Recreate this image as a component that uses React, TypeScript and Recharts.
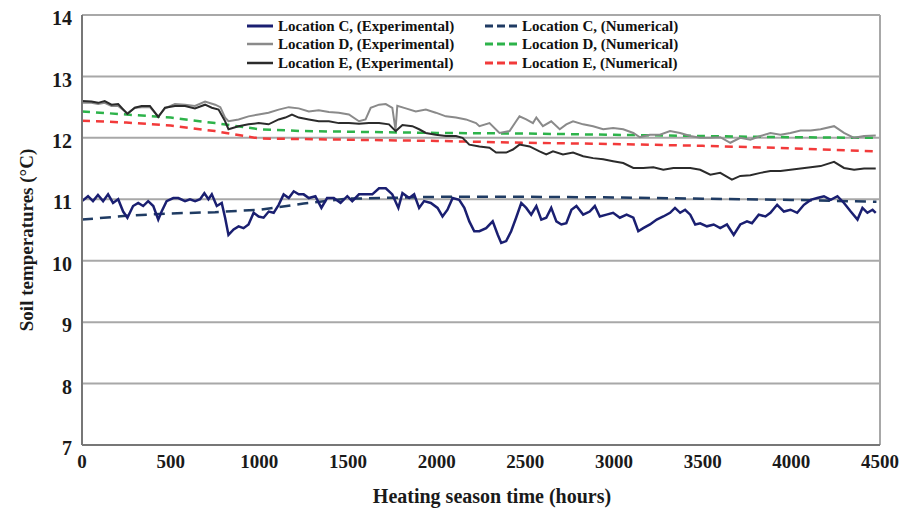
import {
  CartesianGrid,
  Label,
  Line,
  LineChart,
  ReferenceLine,
  XAxis,
  YAxis,
} from "recharts";

const xTicks = [0, 500, 1000, 1500, 2000, 2500, 3000, 3500, 4000, 4500];
const yTicks = [7, 8, 9, 10, 11, 12, 13, 14];

// experimental, location C (hours / °C)
const cHours = [
  0, 34, 62, 90, 119, 147, 175, 204, 232, 256, 288, 317, 345, 373, 402, 430, 449, 477, 515, 543,
  581, 609, 638, 666, 690, 713, 732, 760, 788, 807, 826, 855, 883, 911, 939, 968, 996, 1024, 1053, 1081,
  1109, 1137, 1166, 1194, 1222, 1250, 1279, 1316, 1350, 1382, 1420, 1458, 1496, 1524, 1562, 1599, 1637, 1675, 1713, 1750,
  1784, 1807, 1845, 1873, 1901, 1929, 1967, 2005, 2033, 2061, 2090, 2127, 2156, 2184, 2212, 2241,
  2279, 2316, 2345, 2364, 2392, 2420, 2448, 2477, 2505, 2533, 2562, 2590, 2618, 2646, 2675, 2703, 2731, 2760, 2788, 2826,
  2863, 2892, 2920, 2958, 2995, 3033, 3071, 3109, 3137, 3165, 3203, 3241, 3278, 3316, 3344, 3373,
  3401, 3430, 3458, 3486, 3524, 3562, 3599, 3637, 3675, 3712, 3750, 3778, 3816, 3854, 3882, 3920, 3958, 3995, 4033, 4071,
  4109, 4146, 4184, 4222, 4260, 4297, 4335, 4373, 4401, 4429, 4458, 4476,
];
const cExp = [
  10.97, 11.05, 10.97, 11.07, 10.97, 11.08, 10.94, 11.0, 10.8, 10.7, 10.89, 10.94, 10.89, 10.97, 10.89, 10.67, 10.8, 10.97, 11.02, 11.02,
  10.97, 11.0, 10.97, 11.0, 11.1, 11.0, 11.08, 10.89, 10.94, 10.7, 10.42, 10.51, 10.56, 10.53, 10.59, 10.78, 10.72, 10.7, 10.8, 10.78,
  10.91, 11.08, 11.02, 11.13, 11.08, 11.08, 11.02, 11.05, 10.86, 11.02, 11.02, 10.94, 11.05, 10.97, 11.08, 11.08, 11.08, 11.18, 11.18, 11.08,
  10.86, 11.1, 11.02, 11.08, 10.86, 10.97, 10.94, 10.86, 10.72, 10.83, 11.02, 10.99, 10.86, 10.64, 10.48, 10.48,
  10.53, 10.64, 10.42, 10.29, 10.32, 10.48, 10.7, 10.94, 10.86, 10.75, 10.89, 10.67, 10.7, 10.86, 10.64, 10.59, 10.61, 10.83, 10.89, 10.75,
  10.8, 10.89, 10.72, 10.75, 10.78, 10.7, 10.75, 10.7, 10.48, 10.53, 10.59, 10.67, 10.72, 10.78, 10.86, 10.78,
  10.83, 10.75, 10.59, 10.61, 10.56, 10.59, 10.53, 10.59, 10.42, 10.59, 10.64, 10.61, 10.75, 10.72, 10.78, 10.91, 10.8, 10.83, 10.78, 10.91,
  10.99, 11.02, 11.05, 10.99, 11.05, 10.94, 10.8, 10.67, 10.86, 10.78, 10.83, 10.78,
];

// experimental, location D
const dHours = [
  0, 53, 91, 128, 166, 204, 256, 298, 336, 383, 430, 468, 524, 581, 637, 694, 751, 780, 807, 826,
  883, 939, 996, 1052, 1109, 1166, 1222, 1279, 1335, 1392, 1448, 1505, 1562, 1599, 1628, 1675, 1713, 1750, 1768, 1778,
  1826, 1882, 1939, 1995, 2052, 2109, 2165, 2222, 2241, 2298, 2354, 2411, 2448, 2467, 2505, 2543, 2562, 2599, 2646, 2694,
  2731, 2769, 2826, 2882, 2939, 2995, 3052, 3109, 3146, 3203, 3259, 3316, 3373, 3430, 3486, 3543, 3599, 3656, 3712, 3769,
  3826, 3882, 3939, 3995, 4052, 4109, 4165, 4241, 4297, 4354, 4410, 4476,
];
const dExp = [
  12.57, 12.57, 12.55, 12.57, 12.52, 12.52, 12.4, 12.49, 12.5, 12.5, 12.35, 12.48, 12.55, 12.54, 12.52, 12.59, 12.54, 12.5, 12.33, 12.27,
  12.3, 12.35, 12.38, 12.41, 12.46, 12.5, 12.48, 12.43, 12.45, 12.42, 12.41, 12.38, 12.27, 12.3, 12.49, 12.54, 12.55, 12.49, 12.13, 12.52,
  12.48, 12.43, 12.46, 12.41, 12.35, 12.33, 12.3, 12.24, 12.19, 12.24, 12.08, 12.11, 12.27, 12.35, 12.3, 12.24, 12.33, 12.19, 12.27, 12.14,
  12.22, 12.27, 12.22, 12.19, 12.14, 12.16, 12.14, 12.08, 12.01, 12.05, 12.05, 12.11, 12.08, 12.03, 12.0, 12.0, 12.01, 11.92, 12.0, 11.97,
  12.03, 12.08, 12.05, 12.08, 12.12, 12.12, 12.14, 12.19, 12.08, 12.0, 12.03, 12.04,
];

// experimental, location E
const eHours = [
  0, 53, 91, 128, 166, 204, 256, 298, 336, 383, 430, 468, 524, 581, 637, 694, 732, 770, 807, 826,
  883, 939, 996, 1052, 1109, 1147, 1184, 1222, 1279, 1335, 1392, 1448, 1505, 1562, 1618, 1675, 1731, 1769, 1807, 1863,
  1901, 1939, 1995, 2052, 2109, 2146, 2184, 2241, 2298, 2335, 2392, 2430, 2467, 2524, 2580, 2618, 2656, 2712, 2769, 2826,
  2882, 2939, 2995, 3052, 3109, 3165, 3222, 3278, 3335, 3373, 3430, 3486, 3543, 3599, 3665, 3712, 3769, 3826, 3882, 3939,
  3995, 4052, 4109, 4165, 4241, 4297, 4354, 4410, 4476,
];
const eExp = [
  12.6, 12.59, 12.57, 12.6, 12.54, 12.55, 12.39, 12.49, 12.52, 12.52, 12.34, 12.49, 12.52, 12.52, 12.48, 12.54, 12.49, 12.46, 12.27, 12.14,
  12.19, 12.22, 12.24, 12.22, 12.3, 12.33, 12.38, 12.33, 12.3, 12.27, 12.27, 12.24, 12.24, 12.23, 12.24, 12.24, 12.22, 12.11, 12.21, 12.19,
  12.14, 12.08, 12.05, 12.03, 12.03, 12.0, 11.89, 11.86, 11.84, 11.76, 11.76, 11.81, 11.89, 11.86, 11.78, 11.73, 11.78, 11.73, 11.76, 11.7,
  11.67, 11.65, 11.62, 11.59, 11.51, 11.51, 11.52, 11.48, 11.51, 11.51, 11.51, 11.48, 11.4, 11.43, 11.32, 11.38, 11.39, 11.43, 11.46, 11.46,
  11.48, 11.5, 11.52, 11.54, 11.61, 11.51, 11.48, 11.5, 11.5,
];

// numerical results
const numHours = [0, 250, 500, 750, 1000, 1250, 1500, 2000, 2500, 3000, 3500, 4000, 4480];
const cNum = [10.67, 10.73, 10.77, 10.79, 10.83, 10.93, 11.01, 11.04, 11.04, 11.03, 11.01, 10.99, 10.96];
const dNum = [12.43, 12.38, 12.33, 12.24, 12.14, 12.11, 12.1, 12.08, 12.07, 12.05, 12.03, 12.01, 12.0];
const eNum = [12.28, 12.25, 12.2, 12.11, 11.99, 11.98, 11.97, 11.95, 11.92, 11.9, 11.87, 11.83, 11.78];

const FONT = "'Liberation Serif', 'Times New Roman', serif";

const toPoints = (hours: number[], values: number[]) =>
  hours.map((h, i) => ({ h, v: values[i] }));

const series = [
  { name: "Location C, (Numerical)", data: toPoints(numHours, cNum), color: "#1f3b63", dash: "11 7", width: 2.5 },
  { name: "Location D, (Numerical)", data: toPoints(numHours, dNum), color: "#2db34a", dash: "8 6", width: 2.5 },
  { name: "Location E, (Numerical)", data: toPoints(numHours, eNum), color: "#f23a3a", dash: "8 6", width: 2.5 },
  { name: "Location D, (Experimental)", data: toPoints(dHours, dExp), color: "#8a8a8a", dash: undefined, width: 2 },
  { name: "Location E, (Experimental)", data: toPoints(eHours, eExp), color: "#2b2b2b", dash: undefined, width: 2 },
  { name: "Location C, (Experimental)", data: toPoints(cHours, cExp), color: "#1a1f71", dash: undefined, width: 2.5 },
];

const legendCols = [
  ["Location C, (Experimental)", "Location D, (Experimental)", "Location E, (Experimental)"],
  ["Location C, (Numerical)", "Location D, (Numerical)", "Location E, (Numerical)"],
];

function LegendBox() {
  const colX = [247, 485];
  const lineW = [26, 32];
  const rowY = [26, 44, 63];
  return (
    <>
      {legendCols.map((col, ci) =>
        col.map((name, ri) => {
          const s = series.find((x) => x.name === name)!;
          return (
            <div
              key={name}
              style={{
                position: "absolute",
                left: colX[ci],
                top: rowY[ri] - 10,
                height: 20,
                display: "flex",
                alignItems: "center",
                fontFamily: FONT,
                fontWeight: "bold",
                fontSize: 15,
                color: "#111",
                whiteSpace: "nowrap",
              }}
            >
              <svg width={lineW[ci]} height={6} style={{ marginRight: 5 }}>
                <line
                  x1={0}
                  y1={3}
                  x2={lineW[ci]}
                  y2={3}
                  stroke={s.color}
                  strokeWidth={s.width + 0.5}
                  strokeDasharray={s.dash ? "8 4" : undefined}
                />
              </svg>
              {name}
            </div>
          );
        })
      )}
    </>
  );
}

export default function App() {
  return (
    <div style={{ position: "absolute", left: 0, top: 0, width: 909, height: 510, background: "#fff" }}>
      <LineChart
        width={909}
        height={510}
        margin={{ top: 15, right: 29, bottom: 35, left: 0 }}
      >
        <CartesianGrid vertical={false} stroke="#a8a8a8" strokeWidth={2} />
        <XAxis
          type="number"
          dataKey="h"
          domain={[0, 4500]}
          ticks={xTicks}
          height={30}
          tickLine={false}
          tickSize={4}
          tickMargin={6}
          axisLine={{ stroke: "#777", strokeWidth: 2 }}
          tick={{ fontFamily: FONT, fontWeight: "bold", fontSize: 19, fill: "#1a1a1a" }}
          allowDuplicatedCategory={false}
        >
          <Label
            content={() => (
              <text
                x={492}
                y={503}
                textAnchor="middle"
                fontFamily={FONT}
                fontWeight="bold"
                fontSize={20}
                fill="#1a1a1a"
              >
                Heating season time (hours)
              </text>
            )}
          />
        </XAxis>
        <YAxis
          type="number"
          domain={[7, 14]}
          ticks={yTicks}
          width={82}
          tickLine={false}
          tickSize={6}
          tickMargin={4}
          axisLine={{ stroke: "#777", strokeWidth: 2 }}
          tick={{ fontFamily: FONT, fontWeight: "bold", fontSize: 20, fill: "#1a1a1a", dy: 3 }}
        >
          <Label
            content={() => (
              <text
                x={33}
                y={240}
                transform="rotate(-90 33 240)"
                textAnchor="middle"
                fontFamily={FONT}
                fontWeight="bold"
                fontSize={19}
                fill="#1a1a1a"
              >
                Soil temperatures (°C)
              </text>
            )}
          />
        </YAxis>
        <ReferenceLine x={4500} stroke="#a8a8a8" strokeWidth={2} />
        {series.map((s) => (
          <Line
            key={s.name}
            data={s.data}
            dataKey="v"
            name={s.name}
            type="linear"
            stroke={s.color}
            strokeWidth={s.width}
            strokeDasharray={s.dash}
            dot={false}
            activeDot={false}
            isAnimationActive={false}
          />
        ))}
      </LineChart>
      <LegendBox />
    </div>
  );
}
